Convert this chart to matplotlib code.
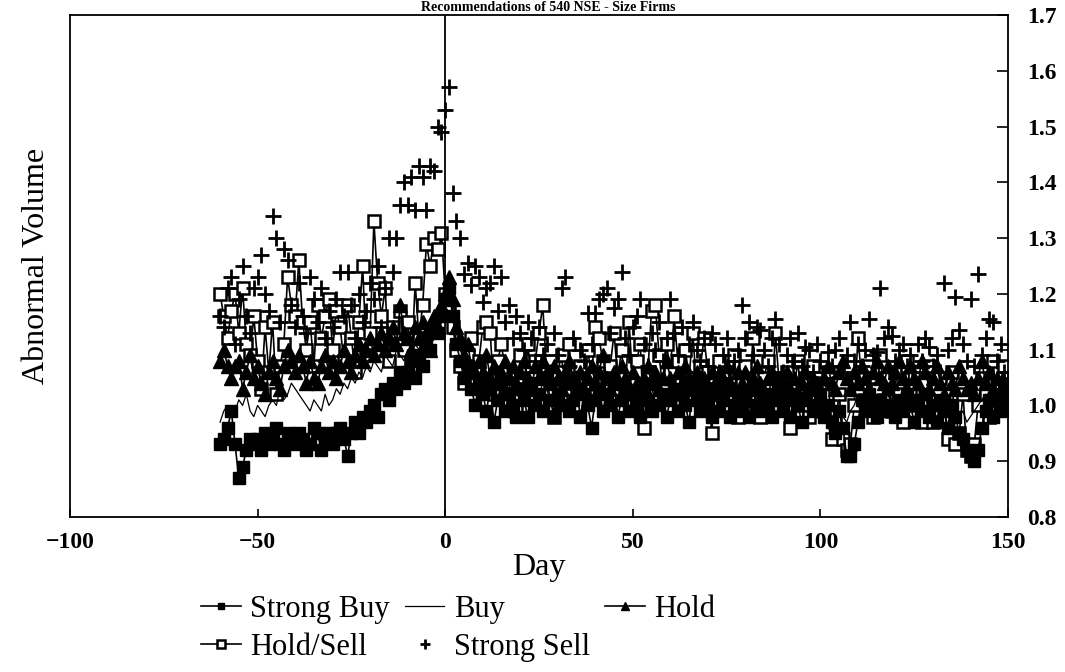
import numpy as np
import matplotlib
matplotlib.use('Agg')
import matplotlib.pyplot as plt

# event days -60 .. 150
days = np.arange(-60, 151)

strong_buy = [
    0.93, 0.94, 0.96, 0.99, 0.93, 0.87, 0.89, 0.92, 0.94, 0.93,
    0.94, 0.92, 0.95, 0.93, 0.94, 0.96, 0.93, 0.92, 0.95, 0.94,
    0.93, 0.95, 0.94, 0.92, 0.93, 0.96, 0.95, 0.92, 0.94, 0.95,
    0.93, 0.95, 0.96, 0.94, 0.91, 0.95, 0.97, 0.95, 0.98, 0.97,
    0.99, 1.00, 0.98, 1.02, 1.03, 1.01, 1.04, 1.03, 1.06, 1.04,
    1.06, 1.08, 1.05, 1.09, 1.07, 1.11, 1.10, 1.14, 1.13, 1.16,
    1.19, 1.21, 1.16, 1.11, 1.08, 1.05, 1.07, 1.03, 1.00, 1.04,
    1.02, 0.99, 1.03, 0.97, 1.01, 1.04, 0.99, 1.02, 1.00, 0.98,
    1.03, 1.01, 0.98, 1.04, 1.00, 1.02, 0.99, 1.05, 1.01, 0.98,
    1.02, 1.00, 1.04, 0.99, 1.01, 1.03, 0.98, 1.02, 1.00, 0.96,
    1.01, 1.03, 0.99, 1.02, 1.00, 1.04, 0.98, 1.01, 1.03, 0.99,
    1.02, 1.00, 0.98, 1.03, 1.01, 0.99, 1.04, 1.00, 1.02, 0.98,
    1.01, 1.03, 0.99, 1.02, 1.00, 0.97, 1.03, 1.01, 0.99, 1.02,
    1.00, 0.98, 1.02, 0.99, 1.01, 1.03, 0.98, 1.00, 1.02, 0.99,
    1.01, 0.98, 1.03, 1.00, 0.99, 1.02, 1.00, 0.98, 1.01, 1.03,
    0.99, 1.01, 0.98, 1.02, 1.00, 0.97, 1.01, 1.03, 0.99, 1.00,
    1.02, 0.98, 1.00, 0.97, 0.95, 0.99, 0.96, 0.91, 0.91, 0.93,
    0.97, 1.01, 0.99, 1.02, 1.00, 0.98, 1.01, 0.99, 1.03, 1.00,
    0.98, 1.01, 0.99, 1.02, 1.00, 0.97, 1.01, 0.99, 1.02, 0.98,
    1.00, 0.97, 1.01, 0.99, 0.96, 1.00, 0.98, 0.95, 0.94, 0.92,
    0.91, 0.90, 0.92, 0.96, 0.99, 1.01, 0.98, 1.02, 1.00, 0.99,
    1.01,
]

buy = [
    0.97, 0.99, 1.00, 0.98, 0.99, 1.01, 1.00, 1.02, 0.99, 0.98,
    1.00, 0.99, 0.98, 1.00, 1.01, 1.00, 1.03, 1.01, 1.02, 1.04,
    1.03, 1.02, 1.01, 1.00, 0.99, 1.01, 1.00, 0.99, 1.02, 1.00,
    1.01, 1.03, 1.02, 1.04, 1.03, 1.05, 1.04, 1.06, 1.05, 1.07,
    1.06, 1.08, 1.07, 1.06, 1.09, 1.08, 1.07, 1.10, 1.09, 1.08,
    1.10, 1.09, 1.11, 1.10, 1.12, 1.11, 1.13, 1.14, 1.16, 1.18,
    1.20, 1.22, 1.17, 1.13, 1.10, 1.08, 1.06, 1.07, 1.05, 1.04,
    1.05, 1.03, 1.04, 1.06, 1.03, 1.02, 1.04, 1.03, 1.05, 1.02,
    1.03, 1.04, 1.02, 1.03, 1.05, 1.02, 1.04, 1.03, 1.01, 1.03,
    1.04, 1.02, 1.03, 1.05, 1.02, 1.03, 1.01, 1.04, 1.02, 1.03,
    1.02, 1.04, 1.03, 1.01, 1.03, 1.02, 1.04, 1.02, 1.03, 1.01,
    1.03, 1.02, 1.04, 1.01, 1.03, 1.02, 1.04, 1.03, 1.01, 1.02,
    1.04, 1.02, 1.03, 1.01, 1.03, 1.04, 1.02, 1.01, 1.03, 1.02,
    1.01, 1.03, 1.02, 1.04, 1.02, 1.01, 1.03, 1.02, 1.01, 1.03,
    1.02, 1.04, 1.02, 1.01, 1.03, 1.02, 1.01, 1.03, 1.02, 1.04,
    1.02, 1.01, 1.03, 1.02, 1.00, 1.02, 1.03, 1.01, 1.02, 1.01,
    1.03, 1.02, 1.00, 1.01, 0.99, 1.01, 0.98, 0.97, 0.99, 1.00,
    1.02, 1.01, 1.03, 1.02, 1.00, 1.02, 1.01, 1.03, 1.02, 1.00,
    1.02, 1.01, 1.03, 1.00, 1.02, 1.01, 1.00, 1.02, 1.01, 1.03,
    1.01, 1.00, 1.02, 1.01, 0.99, 1.01, 1.00, 0.98, 0.99, 0.97,
    0.98, 0.99, 1.00, 1.01, 1.02, 1.01, 1.03, 1.02, 1.01, 1.02,
    1.03,
]

hold = [
    1.08, 1.10, 1.07, 1.05, 1.07, 1.08, 1.03, 1.06, 1.09, 1.05,
    1.07, 1.04, 1.02, 1.06, 1.08, 1.05, 1.03, 1.07, 1.10, 1.08,
    1.06, 1.09, 1.07, 1.04, 1.08, 1.05, 1.04, 1.07, 1.09, 1.06,
    1.08, 1.05, 1.07, 1.10, 1.08, 1.06, 1.09, 1.11, 1.08, 1.10,
    1.12, 1.09, 1.11, 1.13, 1.10, 1.12, 1.14, 1.11, 1.18, 1.13,
    1.12, 1.10, 1.14, 1.12, 1.15, 1.13, 1.10, 1.16, 1.14, 1.18,
    1.20, 1.23, 1.19, 1.14, 1.12, 1.09, 1.11, 1.07, 1.06, 1.08,
    1.06, 1.09, 1.05, 1.07, 1.04, 1.06, 1.08, 1.05, 1.07, 1.04,
    1.06, 1.08, 1.05, 1.03, 1.07, 1.05, 1.08, 1.06, 1.04, 1.07,
    1.05, 1.03, 1.06, 1.08, 1.05, 1.04, 1.06, 1.03, 1.05, 1.07,
    1.04, 1.06, 1.09, 1.05, 1.03, 1.06, 1.04, 1.07, 1.05, 1.03,
    1.06, 1.04, 1.02, 1.05, 1.07, 1.04, 1.06, 1.03, 1.05, 1.08,
    1.05, 1.03, 1.06, 1.04, 1.07, 1.05, 1.03, 1.06, 1.04, 1.05,
    1.03, 1.06, 1.04, 1.02, 1.05, 1.07, 1.04, 1.03, 1.06, 1.04,
    1.06, 1.03, 1.05, 1.07, 1.04, 1.02, 1.05, 1.06, 1.03, 1.05,
    1.04, 1.06, 1.03, 1.05, 1.02, 1.04, 1.06, 1.03, 1.05, 1.04,
    1.02, 1.05, 1.07, 1.04, 1.03, 1.06, 1.08, 1.05, 1.03, 1.06,
    1.04, 1.07, 1.05, 1.03, 1.06, 1.08, 1.05, 1.04, 1.07, 1.04,
    1.06, 1.08, 1.05, 1.03, 1.07, 1.05, 1.04, 1.08, 1.06, 1.03,
    1.05, 1.07, 1.04, 1.02, 1.06, 1.04, 1.03, 1.07, 1.05, 1.03,
    1.04, 1.02, 1.05, 1.08, 1.04, 1.06, 1.03, 1.05, 1.02, 1.04,
    1.03,
]

hold_sell = [
    1.20, 1.16, 1.12, 1.17, 1.20, 1.13, 1.21, 1.11, 1.09, 1.16,
    1.08, 1.03, 1.14, 1.06, 1.15, 1.02, 1.07, 1.11, 1.23, 1.18,
    1.16, 1.26, 1.15, 1.10, 1.15, 1.07, 1.18, 1.12, 1.16, 1.19,
    1.10, 1.17, 1.14, 1.08, 1.18, 1.12, 1.06, 1.15, 1.25, 1.09,
    1.13, 1.33, 1.22, 1.16, 1.21, 1.08, 1.14, 1.11, 1.17, 1.10,
    1.15, 1.07, 1.22, 1.12, 1.18, 1.29, 1.25, 1.30, 1.28, 1.31,
    1.20, 1.17, 1.14, 1.10, 1.07, 1.04, 1.09, 1.12, 1.06, 1.08,
    1.14, 1.15, 1.13, 1.02, 1.08, 1.11, 1.06, 1.04, 1.02, 0.99,
    1.09, 1.03, 1.11, 1.05, 1.08, 1.13, 1.18, 1.06, 1.03, 0.98,
    1.06, 1.09, 1.02, 1.11, 1.04, 1.00, 1.07, 1.03, 1.10, 1.05,
    1.14, 1.12, 1.08, 1.04, 1.07, 1.13, 1.05, 1.10, 1.02, 1.15,
    1.04, 1.08, 1.11, 0.96, 1.06, 1.17, 1.18, 1.09, 1.03, 1.11,
    1.06, 1.16, 1.08, 1.02, 1.10, 1.05, 1.13, 1.03, 1.07, 1.12,
    1.06, 0.95, 1.03, 1.08, 1.00, 1.06, 1.02, 1.09, 0.98, 1.04,
    1.07, 1.01, 1.12, 1.03, 0.98, 1.05, 1.08, 1.00, 1.13, 1.04,
    1.02, 1.06, 0.96, 1.03, 1.08, 1.00, 1.05, 0.98, 1.07, 1.02,
    1.04, 0.99, 1.06, 0.94, 0.97, 1.02, 0.94, 0.92, 0.93, 1.00,
    1.12, 1.05, 1.01, 1.07, 0.98, 1.03, 1.09, 1.01, 1.05, 0.99,
    1.06, 1.02, 0.97, 1.08, 1.03, 1.00, 1.06, 0.97, 1.04, 1.07,
    0.97, 1.03, 1.05, 1.00, 0.94, 1.06, 0.93, 0.95, 1.02, 0.92,
    0.91, 0.93, 1.00, 1.05, 1.02, 0.98, 1.08, 1.01, 1.04, 1.07,
    1.05,
]

strong_sell = [
    1.16, 1.14, 1.21, 1.23, 1.11, 1.19, 1.25, 1.16, 1.13, 1.21,
    1.23, 1.27, 1.20, 1.17, 1.34, 1.30, 1.15, 1.28, 1.26, 1.18,
    1.14, 1.22, 1.16, 1.13, 1.23, 1.19, 1.15, 1.21, 1.12, 1.17,
    1.14, 1.19, 1.24, 1.16, 1.24, 1.18, 1.12, 1.20, 1.15, 1.17,
    1.22, 1.19, 1.25, 1.14, 1.21, 1.30, 1.24, 1.30, 1.36, 1.40,
    1.36, 1.41, 1.35, 1.43, 1.41, 1.35, 1.43, 1.42, 1.50, 1.49,
    1.53, 1.57, 1.38, 1.33, 1.30, 1.235, 1.255, 1.215, 1.25, 1.23,
    1.185, 1.21, 1.22, 1.25, 1.17, 1.23, 1.15, 1.18, 1.12, 1.16,
    1.13, 1.10, 1.15, 1.12, 1.08, 1.14, 1.09, 1.11, 1.06, 1.13,
    1.09, 1.21, 1.23, 1.07, 1.12, 1.05, 1.10, 1.08, 1.165, 1.11,
    1.165, 1.19, 1.20, 1.21, 1.13, 1.175, 1.19, 1.24, 1.12, 1.09,
    1.14, 1.16, 1.19, 1.11, 1.07, 1.13, 1.10, 1.15, 1.08, 1.12,
    1.19, 1.13, 1.09, 1.14, 1.06, 1.11, 1.15, 1.10, 1.08, 1.12,
    1.07, 1.13, 1.11, 1.06, 1.09, 1.12, 1.05, 1.08, 1.10, 1.18,
    1.12, 1.15, 1.09, 1.14, 1.135, 1.10, 1.07, 1.12, 1.155, 1.11,
    1.06, 1.09, 1.12, 1.08, 1.13, 1.07, 1.105, 1.10, 1.06, 1.11,
    1.08, 1.05, 1.095, 1.07, 1.10, 1.12, 1.06, 1.09, 1.15, 1.08,
    1.11, 1.07, 1.10, 1.155, 1.09, 1.095, 1.21, 1.12, 1.14, 1.125,
    1.08, 1.10, 1.11, 1.07, 1.09, 1.06, 1.11, 1.08, 1.12, 1.105,
    1.07, 1.09, 1.06, 1.22, 1.10, 1.12, 1.195, 1.135, 1.11, 1.08,
    1.19, 1.07, 1.235, 1.09, 1.12, 1.155, 1.15, 1.08, 1.11, 1.06,
    1.05,
]

x_ticks = [-100, -50, 0, 50, 100, 150]
y_ticks = [0.8, 0.9, 1.0, 1.1, 1.2, 1.3, 1.4, 1.5, 1.6, 1.7]

plt.rcParams['font.family'] = ['Liberation Serif', 'DejaVu Serif']

fig = plt.figure(figsize=(10.65, 6.72), dpi=100)
ax = fig.add_axes([0.0657, 0.2307, 0.8808, 0.747])

ax.plot(days, hold_sell, color='black', lw=1.2, marker='s', markersize=9,
        markerfacecolor='white', markeredgewidth=1.8, label='Hold/Sell')
ax.plot(days, hold, color='black', lw=1.2, marker='^', markersize=10,
        label='Hold')
ax.plot(days, buy, color='black', lw=0.9, label='Buy')
ax.plot(days, strong_buy, color='black', lw=1.2, marker='s', markersize=8,
        label='Strong Buy')
ax.plot(days, strong_sell, linestyle='none', color='black', marker='+',
        markersize=11, markeredgewidth=2.0, label='Strong Sell')

ax.axvline(0, color='black', lw=1.3)

ax.set_xlim(-100, 150)
ax.set_ylim(0.8, 1.7)
ax.set_xticks(x_ticks)
ax.set_xticklabels(['\u2212100', '\u221250', '0', '50', '100', '150'])
ax.set_yticks(y_ticks)
ax.set_yticklabels([f'{v:.1f}' for v in y_ticks])
ax.yaxis.tick_right()
ax.tick_params(axis='y', direction='in', length=8, width=1.2, pad=14,
               labelsize=17)
ax.tick_params(axis='x', direction='in', length=6, width=1.2, pad=11,
               labelsize=17)
for lbl in ax.get_xticklabels() + ax.get_yticklabels():
    lbl.set_fontweight('bold')
for s in ax.spines.values():
    s.set_linewidth(1.3)

ax.set_xlabel('Day', fontsize=23, labelpad=0)
ax.set_ylabel('Abnormal Volume', fontsize=23, labelpad=14)

# title squeezed into the strip above the frame
fig.text(0.515, 0.9985, 'Recommendations of 540 NSE - Size Firms',
         ha='center', va='top', fontsize=10, fontweight='bold')

handles, labels = ax.get_legend_handles_labels()
order = ['Strong Buy', 'Hold/Sell', 'Buy', 'Strong Sell', 'Hold']
hmap = dict(zip(labels, handles))
fig.legend([hmap[k] for k in order], order, loc='center',
           bbox_to_anchor=(0.43, 0.065), ncol=3, frameon=False,
           fontsize=22, handlelength=1.3, handletextpad=0.3,
           columnspacing=0.5, labelspacing=0.3, markerscale=0.6)

fig.savefig('out.png', dpi=100)
